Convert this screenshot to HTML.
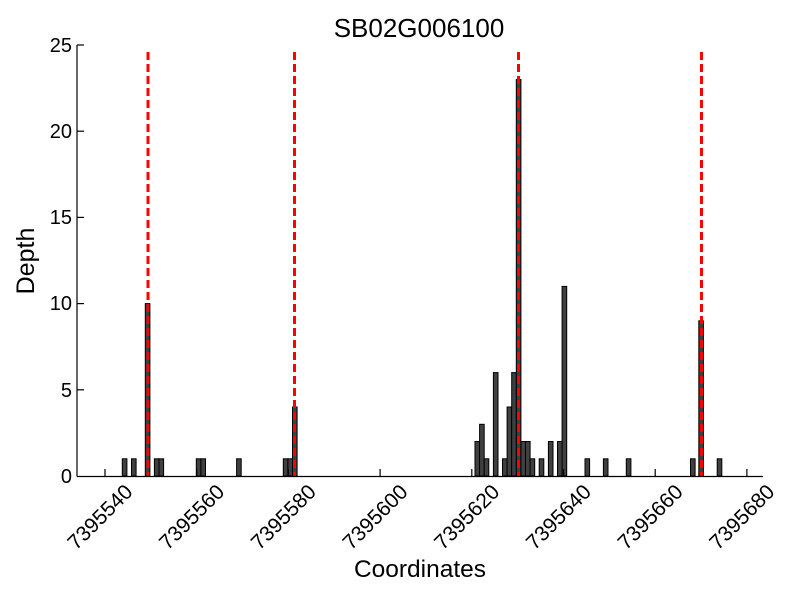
<!DOCTYPE html>
<html><head><meta charset="utf-8"><style>
html,body{margin:0;padding:0;background:#fff}
svg{display:block;font-family:"Liberation Sans",sans-serif}
</style></head><body>
<svg width="800" height="600" viewBox="0 0 800 600" xmlns="http://www.w3.org/2000/svg">
<rect width="800" height="600" fill="#fff"/>
<g fill="#404040" stroke="#000" stroke-width="1">
<rect x="122.3" y="458.8" width="4.6" height="17.2"/>
<rect x="131.5" y="458.8" width="4.6" height="17.2"/>
<rect x="145.3" y="303.6" width="4.6" height="172.4"/>
<rect x="154.4" y="458.8" width="4.6" height="17.2"/>
<rect x="159" y="458.8" width="4.6" height="17.2"/>
<rect x="196.3" y="458.8" width="4.6" height="17.2"/>
<rect x="200.9" y="458.8" width="4.6" height="17.2"/>
<rect x="236.6" y="458.8" width="4.6" height="17.2"/>
<rect x="283.3" y="458.8" width="4.6" height="17.2"/>
<rect x="287.9" y="458.8" width="4.6" height="17.2"/>
<rect x="292.5" y="407" width="4.6" height="69"/>
<rect x="475" y="441.5" width="4.6" height="34.5"/>
<rect x="479.6" y="424.3" width="4.6" height="51.7"/>
<rect x="484.2" y="458.8" width="4.6" height="17.2"/>
<rect x="493.4" y="372.6" width="4.6" height="103.4"/>
<rect x="502.5" y="458.8" width="4.6" height="17.2"/>
<rect x="507.1" y="407" width="4.6" height="69"/>
<rect x="511.7" y="372.6" width="4.6" height="103.4"/>
<rect x="516.3" y="79.5" width="4.6" height="396.5"/>
<rect x="520.9" y="441.5" width="4.6" height="34.5"/>
<rect x="525.5" y="441.5" width="4.6" height="34.5"/>
<rect x="530.1" y="458.8" width="4.6" height="17.2"/>
<rect x="539.2" y="458.8" width="4.6" height="17.2"/>
<rect x="548.4" y="441.5" width="4.6" height="34.5"/>
<rect x="557.5" y="441.5" width="4.6" height="34.5"/>
<rect x="562.1" y="286.4" width="4.6" height="189.6"/>
<rect x="585" y="458.8" width="4.6" height="17.2"/>
<rect x="603.4" y="458.8" width="4.6" height="17.2"/>
<rect x="626.3" y="458.8" width="4.6" height="17.2"/>
<rect x="690.5" y="458.8" width="4.6" height="17.2"/>
<rect x="698.8" y="320.8" width="4.6" height="155.2"/>
<rect x="717.2" y="458.8" width="4.6" height="17.2"/>
</g>
<g stroke="#ff0000" stroke-width="3" stroke-dasharray="8,4">
<line x1="148" y1="52" x2="148" y2="476"/>
<line x1="294.5" y1="52" x2="294.5" y2="476"/>
<line x1="518.5" y1="52" x2="518.5" y2="476"/>
<line x1="701.5" y1="52" x2="701.5" y2="476"/>
</g>
<g stroke="#000" stroke-width="1.2" fill="none">
<line x1="77" y1="45" x2="77" y2="476.5"/>
<line x1="77" y1="476.5" x2="763" y2="476.5"/>
<line x1="77" y1="45" x2="84" y2="45"/>
<line x1="77" y1="131.2" x2="84" y2="131.2"/>
<line x1="77" y1="217.4" x2="84" y2="217.4"/>
<line x1="77" y1="303.6" x2="84" y2="303.6"/>
<line x1="77" y1="389.8" x2="84" y2="389.8"/>
<line x1="105" y1="476" x2="105" y2="469"/>
<line x1="196.7" y1="476" x2="196.7" y2="469"/>
<line x1="288.4" y1="476" x2="288.4" y2="469"/>
<line x1="380.1" y1="476" x2="380.1" y2="469"/>
<line x1="471.8" y1="476" x2="471.8" y2="469"/>
<line x1="563.5" y1="476" x2="563.5" y2="469"/>
<line x1="655.2" y1="476" x2="655.2" y2="469"/>
<line x1="746.9" y1="476" x2="746.9" y2="469"/>
</g>
<g font-size="20" text-anchor="end" fill="#000">
<text x="72" y="52">25</text>
<text x="72" y="138">20</text>
<text x="72" y="224">15</text>
<text x="72" y="310">10</text>
<text x="72" y="397">5</text>
<text x="72" y="483">0</text>
</g>
<g font-size="21" text-anchor="middle" fill="#000">
<text transform="translate(105,522) rotate(-45)">7395540</text>
<text transform="translate(196.7,522) rotate(-45)">7395560</text>
<text transform="translate(288.4,522) rotate(-45)">7395580</text>
<text transform="translate(380.1,522) rotate(-45)">7395600</text>
<text transform="translate(471.8,522) rotate(-45)">7395620</text>
<text transform="translate(563.5,522) rotate(-45)">7395640</text>
<text transform="translate(655.2,522) rotate(-45)">7395660</text>
<text transform="translate(746.9,522) rotate(-45)">7395680</text>
</g>
<text x="420" y="577" font-size="24.5" text-anchor="middle">Coordinates</text>
<text transform="translate(34,261) rotate(-90)" font-size="25" text-anchor="middle">Depth</text>
<text x="419" y="37" font-size="26" text-anchor="middle">SB02G006100</text>
</svg>
</body></html>
